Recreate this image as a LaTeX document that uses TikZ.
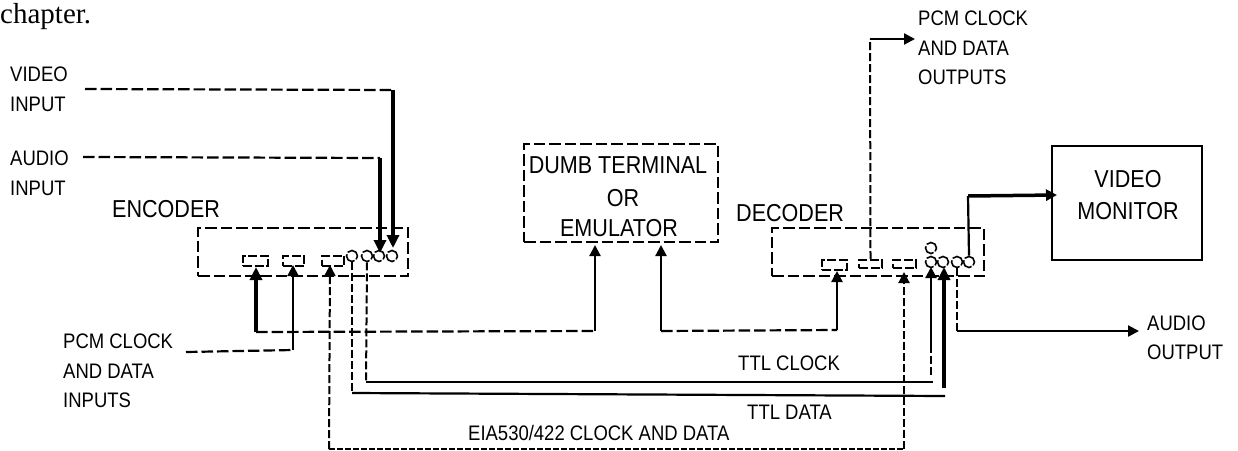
\documentclass[tikz,border=0pt]{standalone}
\usepackage{fontspec}
\setmainfont[FakeStretch=0.88]{Liberation Sans}
\newfontfamily\serifpart{Liberation Serif}
\usetikzlibrary{arrows.meta}
\tikzset{
 x=1pt,y=-1pt,
 dashline/.style={line width=2.2pt,dash pattern=on 11.5pt off 4pt},
 smalldash/.style={line width=2pt,dash pattern=on 8pt off 3pt},
 finedash/.style={line width=1.6pt,dash pattern=on 6pt off 2pt},
 thin solid/.style={line width=2.2pt},
 heavy/.style={line width=4.5pt},
 tip/.style={-{Triangle[length=11pt,width=11pt]}},
 bigtip/.style={-{Triangle[length=13pt,width=12pt]}},
 port/.style={draw,line width=1.8pt,dash pattern=on 9pt off 2.5pt,inner sep=0pt,minimum height=10pt},
 ring/.style={draw,line width=1.6pt,dash pattern=on 13pt off 2pt,circle,inner sep=0pt,minimum size=11pt},
 unit/.style={draw,dashline,inner sep=0pt},
 lab/.style={inner sep=0pt,align=left,anchor=west,font=\fontsize{21}{29.5}\selectfont},
 big/.style={inner sep=0pt,font=\fontsize{24.5}{32}\selectfont},
}
\begin{document}
\begin{tikzpicture}
\useasboundingbox (0,0) rectangle (1238,450);
\node[inner sep=0pt,anchor=base west,font=\serifpart\fontsize{29}{34}\selectfont] (ch) at (0,23) {chapter.};
% units
\node[unit,minimum width=210pt,minimum height=48pt] (enc) at (303,252) {};
\node[unit,minimum width=212pt,minimum height=48pt] (dec) at (878,252) {};
\node[unit,minimum width=194pt,minimum height=98pt] (term) at (621,193) {};
\node[draw,line width=2.2pt,minimum width=150pt,minimum height=114pt,inner sep=0pt] (mon) at (1127,203) {};
\node[big] (t1) at (618,165) {DUMB TERMINAL};
\node[big] (t2) at (623,198) {OR};
\node[big] (t3) at (619,228) {EMULATOR};
\node[big] (m1) at (1128,179) {VIDEO};
\node[big] (m2) at (1128,211) {MONITOR};
\node[big,anchor=west] (enct) at (112,209) {ENCODER};
\node[big,anchor=west] (dect) at (736,213) {DECODER};
% ports
\node[port,minimum width=25pt] (e1) at (255.5,261) {};
\node[port,minimum width=21pt] (e2) at (293.5,261) {};
\node[port,minimum width=22pt] (e3) at (333,261) {};
\node[ring] (e4) at (352,256) {};
\node[ring] (e5) at (367,256) {};
\node[ring] (e6) at (379,256) {};
\node[ring] (e7) at (392,256) {};
\node[port,minimum width=25pt] (d1) at (834.5,265) {};
\node[port,minimum width=23pt,minimum height=8pt] (d2) at (870.5,264) {};
\node[port,minimum width=23pt,minimum height=8pt] (d3) at (904.5,264) {};
\node[ring] (d4) at (931,262) {};
\node[ring] (d4b) at (931,248) {};
\node[ring] (d5) at (943,262) {};
\node[ring] (d6) at (957,262) {};
\node[ring] (d7) at (969,262) {};
% free ends
\coordinate (vin) at (85,89);
\coordinate (vc) at (393,90);
\coordinate (ain) at (83,157);
\coordinate (ac) at (380,158);
\coordinate (pin) at (186,352);
\coordinate (pc) at (293,350);
\coordinate (ec) at (256,332);
\coordinate (tc) at (595,331);
\coordinate (dc) at (661,331);
\coordinate (dd) at (837,330);
\coordinate (out) at (915,39);
\coordinate (oc) at (870,39);
\coordinate (ck1) at (366,382);
\coordinate (ck2) at (933,382);
\coordinate (ck3) at (931,375);
\coordinate (ck4) at (931,350);
\coordinate (dt1) at (352,393);
\coordinate (dt2) at (945,396);
\coordinate (dt3) at (944,388);
\coordinate (ea1) at (329,449);
\coordinate (ea2) at (904,449);
\coordinate (au1) at (957,331);
\coordinate (au2) at (1139,331);
\coordinate (vm) at (968,196);
\coordinate (vm2) at (1057,195);
% input lines
\draw[dashline] (vin) -- (vc);
\draw[heavy,bigtip] (vc) -- (393,248);
\draw[dashline] (ain) -- (ac);
\draw[heavy,bigtip] (ac) -- (380,253);
\draw[dashline] (pin) -- (pc);
\draw[thin solid,tip] (pc) -- (293,265);
\draw[heavy,bigtip] (ec) -- (256,267);
\draw[dashline] (ec) -- (tc);
\draw[thin solid,tip] (tc) -- (595,245);
\draw[thin solid,tip] (dc) -- (661,245);
\draw[dashline] (dc) -- (dd);
\draw[thin solid,tip] (dd) -- (837,271);
% clock and data
\draw[smalldash] (e5.south) -- (ck1);
\draw[thin solid] (ck1) -- (ck2);
\draw[smalldash] (ck3) -- (ck4);
\draw[thin solid,tip] (ck4) -- (931,267);
\draw[smalldash] (e4.south) -- (dt1);
\draw[thin solid] (dt1) -- (dt2);
\draw[heavy,bigtip] (dt3) -- (944,267);
% EIA
\draw[finedash] (ea1) -- (ea2);
\draw[smalldash,tip] (ea1) -- (330,265);
\draw[smalldash,tip] (ea2) -- (904,272);
% outputs
\draw[smalldash] (d2.north) -- (oc);
\draw[thin solid,tip] (oc) -- (out);
\draw[smalldash] (d6.south) -- (au1);
\draw[thin solid,tip] (au1) -- (au2);
\draw[thin solid] (d7.north) -- (vm);
\draw[line width=3.5pt,tip] (vm) -- (vm2);
% labels
\node[lab] (l1) at (10,89.5) {VIDEO\\INPUT};
\node[lab] (l2) at (10,173.5) {AUDIO\\INPUT};
\node[lab] (l3) at (63,371) {PCM CLOCK\\AND DATA\\INPUTS};
\node[lab] (l4) at (918,48) {PCM CLOCK\\AND DATA\\OUTPUTS};
\node[lab] (l5) at (1147,338) {AUDIO\\OUTPUT};
\node[lab] (l6) at (738,363) {TTL CLOCK};
\node[lab] (l7) at (747,412) {TTL DATA};
\node[lab] (l8) at (468,433) {EIA530/422 CLOCK AND DATA};
\end{tikzpicture}
\end{document}
